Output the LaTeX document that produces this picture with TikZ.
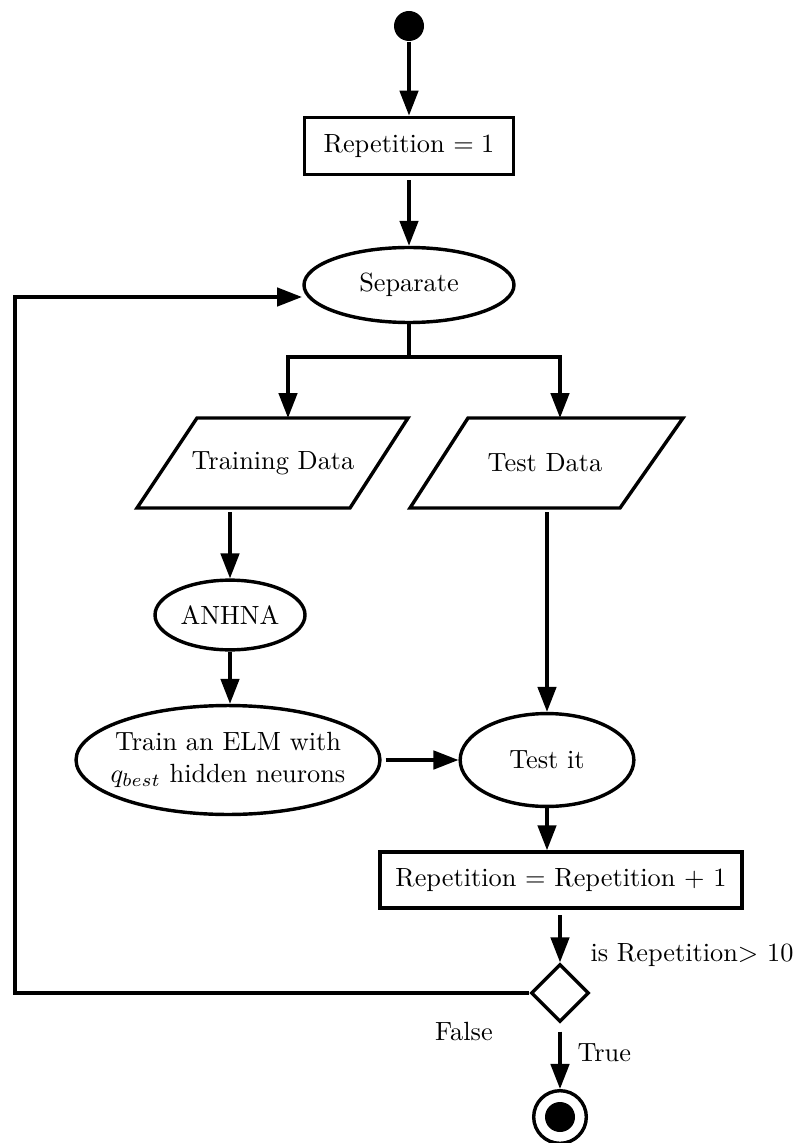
\documentclass[tikz,border=0pt]{standalone}
\usetikzlibrary{shapes.geometric,arrows.meta,calc}
\begin{document}
\begin{tikzpicture}[x=0.38pt,y=-0.38pt,
  every node/.style={font=\normalsize},
  lw/.style={line width=1.3pt},
  arr/.style={lw,-{Triangle[length=9.5pt,width=7pt]}},
  boxnode/.style={draw,lw,rectangle,inner sep=0pt},
  ellnode/.style={draw,lw,ellipse,inner sep=0pt},
  datanode/.style={rectangle,inner sep=0pt,minimum width=80pt,minimum height=34.2pt},
  para/.style={lw,line join=miter}
]
\useasboundingbox (0,0) rectangle (797,1143);

% nodes
\node[circle,fill=black,minimum size=11.4pt,inner sep=0pt] (start) at (409,26) {};
\node[boxnode,minimum width=79.4pt,minimum height=21.8pt] (rep1) at (409,146) {Repetition $=1$};
\node[ellnode,minimum width=79.8pt,minimum height=28.5pt] (sep) at (409,285) {Separate};
\coordinate (split) at (409,357);

\node[datanode] (tdat) at (273,463) {Training Data};
\draw[para] (137,508) -- (197,418) -- (408,418) -- (350,508) -- cycle;
\coordinate (tdin) at (288,418);

\node[datanode] (tsdat) at (545,463) {Test Data};
\draw[para] (410,508) -- (468,418) -- (683,418) -- (620,508) -- cycle;
\coordinate (tsin) at (560,418);

\node[ellnode,minimum width=57pt,minimum height=26.5pt] (anhna) at (230,615) {ANHNA};
\node[ellnode,inner xsep=-8pt,minimum width=115.5pt,minimum height=41.4pt,align=center] (elm) at (228,760)
  {Train an ELM with\\ $q_{best}$ hidden neurons};
\node[ellnode,minimum width=66pt,minimum height=35.3pt] (testit) at (547,760) {Test it};
\node[boxnode,minimum width=137.6pt,minimum height=21.3pt] (rep2) at (561,880) {Repetition $=$ Repetition $+$ 1};
\node[draw,lw,diamond,inner sep=0pt,minimum width=22pt,minimum height=22pt] (dia) at (560,993) {};
\node[circle,draw,lw,minimum size=20pt,inner sep=0pt,
  path picture={\fill (path picture bounding box.center) circle (5.7pt);}] (stop) at (560,1117) {};

\coordinate (lc) at (15,993);
\coordinate (loopin) at (302,297);

% labels
\node[anchor=west,inner sep=0pt] (lblq) at (590,955) {is Repetition$>$ 10};
\node[anchor=west,inner sep=0pt] (lblt) at (577,1053) {True};
\node[inner sep=0pt] (lblf) at (464,1031) {False};

% connectors
\draw[arr] (start) -- (rep1);
\draw[arr,shorten <=1.5pt] (rep1) -- (sep);
\draw[lw] (sep.south) -- (split);
\draw[arr] (split) -| (tdin);
\draw[arr] (split) -| (tsin);
\draw[arr,shorten <=1.5pt] (tdat.south -| anhna.north) -- (anhna.north);
\draw[arr] (anhna.south) -- (anhna.south |- elm.north);
\draw[arr,shorten <=1.5pt] (elm.east) -- (testit.west);
\draw[arr,shorten <=1.5pt] (tsdat.south -| testit.north) -- (testit.north);
\draw[arr] (testit.south) -- (testit.south |- rep2.north);
\draw[arr,shorten <=2pt] (rep2.south -| dia.north) -- (dia.north);
\draw[arr,shorten <=3pt] (dia.south) -- (stop.north);
\draw[arr] (dia.west) -- (lc) |- (loopin);
\end{tikzpicture}
\end{document}
